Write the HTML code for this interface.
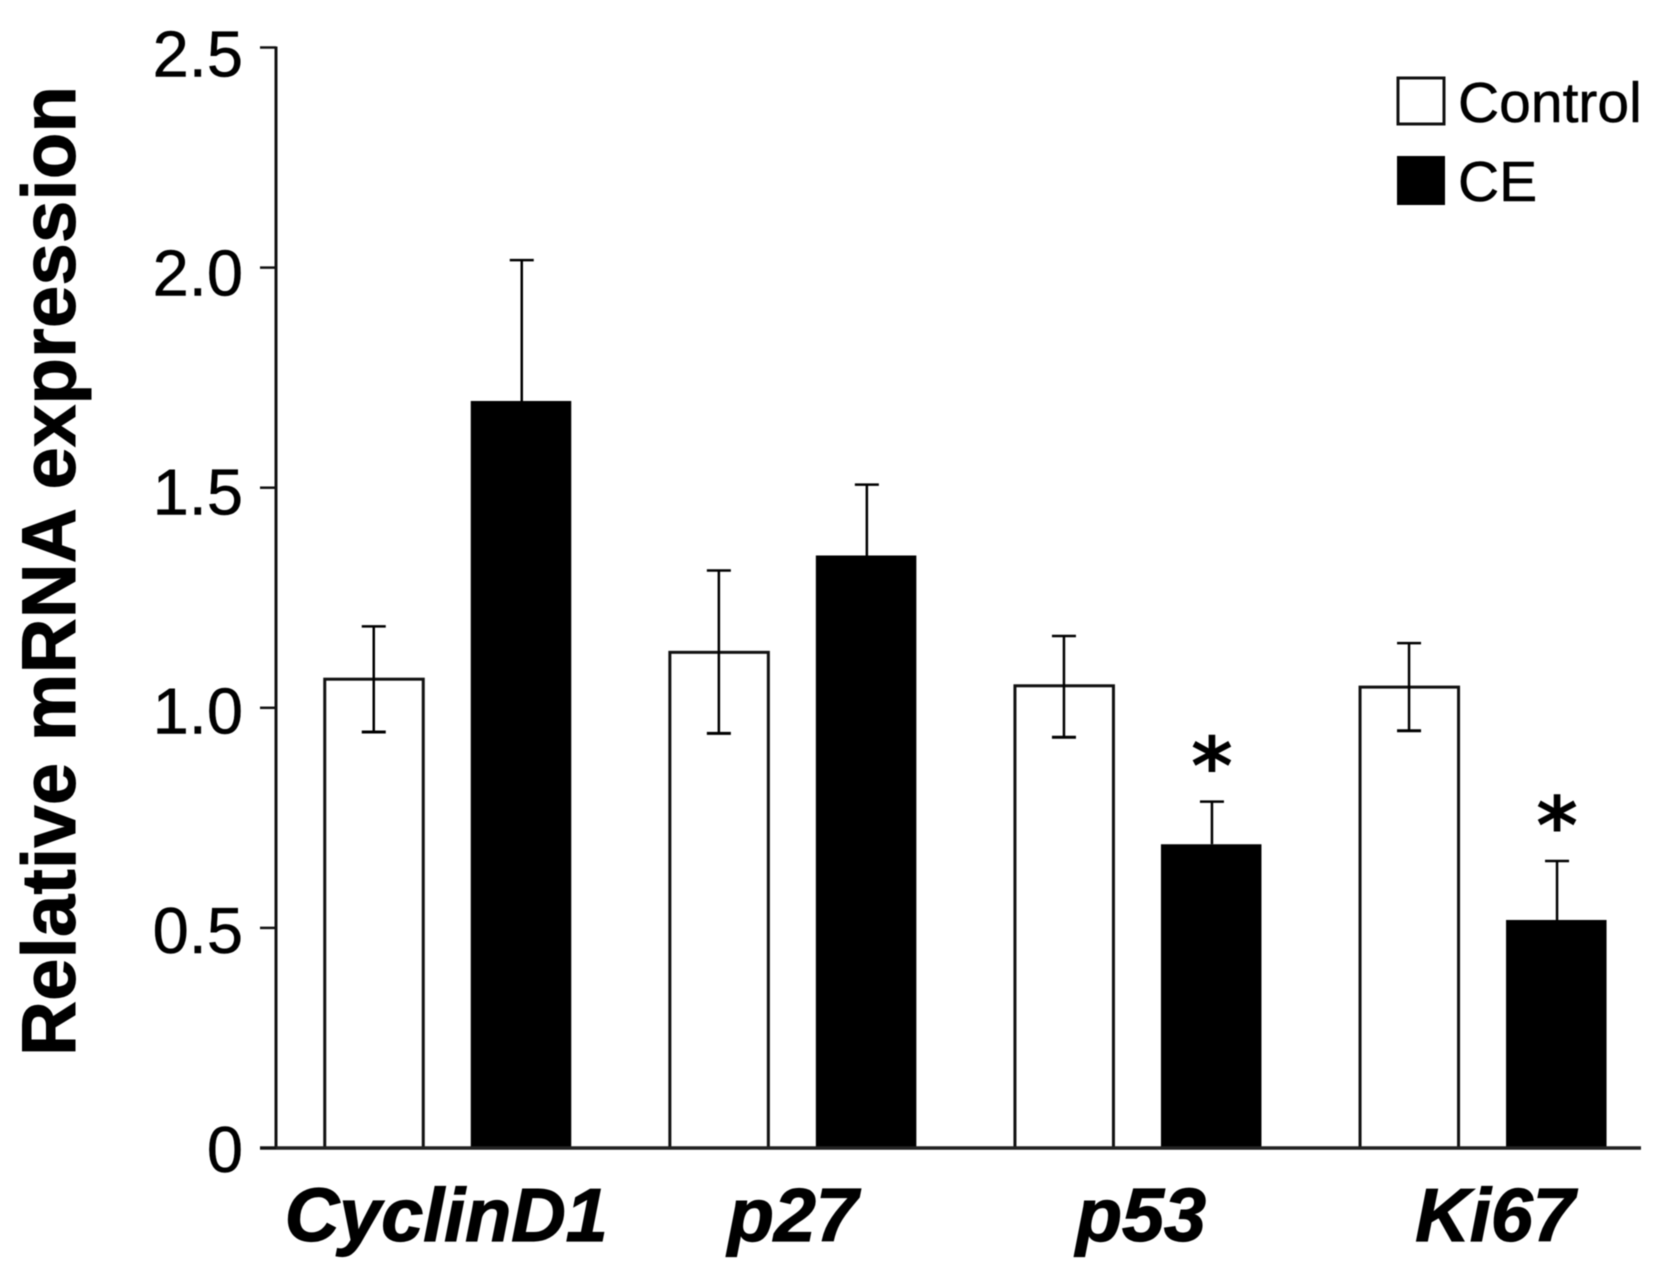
<!DOCTYPE html>
<html lang="en">
<head>
<meta charset="utf-8">
<title>Relative mRNA expression</title>
<style>
  html, body { margin: 0; padding: 0; background: #fff; }
  body { width: 1674px; height: 1279px; overflow: hidden; }
  svg { display: block; filter: blur(0.6px); }
  text { font-family: "Liberation Sans", sans-serif; fill: #000; stroke: #000; stroke-width: 0.5px; }
</style>
</head>
<body>
<svg id="chart" width="1674" height="1279" viewBox="0 0 1674 1279" xmlns="http://www.w3.org/2000/svg">
  <rect x="0" y="0" width="1674" height="1279" fill="#fff"/>
  <text transform="translate(75 1056) rotate(-90)" font-size="76" font-weight="700" textLength="970" style="stroke-width:1px">Relative mRNA expression</text>
  <g>
    <g>
      <rect x="1398" y="78" width="46" height="46" fill="#fff" stroke="#111" stroke-width="3"/>
      <text x="1458" y="122" font-size="57">Control</text>
    </g>
    <g>
      <rect x="1397" y="156" width="48" height="49" fill="#000"/>
      <text x="1458" y="201" font-size="57">CE</text>
    </g>
  </g>
  <g id="plot"></g>
</svg>
<script>
const categories = ["CyclinD1", "p27", "p53", "Ki67"];
const yTickValues = [0, 0.5, 1.0, 1.5, 2.0, 2.5];
const yTickLabels = ["0", "0.5", "1.0", "1.5", "2.0", "2.5"];
const controlValues = [1.065, 1.126, 1.05, 1.047];
const controlErrorUpper = [1.185, 1.312, 1.163, 1.147];
const controlErrorLower = [0.945, 0.942, 0.933, 0.948];
const ceValues = [1.697, 1.346, 0.69, 0.518];
const ceErrorUpper = [2.017, 1.507, 0.787, 0.652];
const significance = ["", "", "*", "*"];

const SVG_NS = "http://www.w3.org/2000/svg";
const plot = document.getElementById("plot");
const baselineY = 1148;
const pxPerUnit = 440.2;
const axisX = 276;
const axisRight = 1641;
const barWidth = 100;
const barOffset = 74;
const capHalf = 12;
const firstGroupCenter = 447.75;
const groupStep = 345.1;
const labelNudge = { "CyclinD1": -1.5, "p27": 0, "p53": 3, "Ki67": 12 };

function yScale(v) { return baselineY - v * pxPerUnit; }
function xGroup(i) { return firstGroupCenter + i * groupStep; }
function tickLabelY(v) { return 1172 - v * 438.3; }

function make(tag, attrs, parent) {
  const node = document.createElementNS(SVG_NS, tag);
  Object.keys(attrs).forEach(function (k) { node.setAttribute(k, attrs[k]); });
  parent.appendChild(node);
  return node;
}

function drawError(group, cx, yTop, yBottom, withLower) {
  const stem = make("line", { x1: cx, x2: cx, y1: yScale(yTop), y2: yScale(yBottom), stroke: "#000", "stroke-width": 2.5 }, group);
  
  
  const top = make("line", { x1: cx - capHalf, x2: cx + capHalf, y1: yScale(yTop), y2: yScale(yTop), stroke: "#000", "stroke-width": 2.5 }, group);
  
  
  if (withLower) {
    const low = make("line", { x1: cx - capHalf, x2: cx + capHalf, y1: yScale(yBottom), y2: yScale(yBottom), stroke: "#000", "stroke-width": 3 }, group);
    
    
  }
}

categories.forEach(function (name, i) {
  const center = xGroup(i);
  const group = make("g", {}, plot);
  
  

  const cx1 = center - barOffset;
  const controlBar = make("rect", {
    x: cx1 - barWidth / 2 + 1, y: yScale(controlValues[i]),
    width: barWidth - 1.5, height: baselineY - yScale(controlValues[i]),
    fill: "#fff", stroke: "#111", "stroke-width": 3
  }, group);
  
  
  drawError(group, cx1, controlErrorUpper[i], controlErrorLower[i], true);

  const cx2 = center + barOffset;
  const ceBar = make("rect", {
    x: cx2 - barWidth / 2 - 1, y: yScale(ceValues[i]),
    width: barWidth + 0.5, height: baselineY - yScale(ceValues[i]),
    fill: "#000"
  }, group);
  
  
  drawError(group, cx2, ceErrorUpper[i], ceValues[i], false);

  if (significance[i]) {
    const star = make("text", {
      x: cx2, y: yScale(ceErrorUpper[i]) - 7, "text-anchor": "middle",
      "font-size": 80, "font-weight": 700, style: 'font-family:"DejaVu Sans",sans-serif;stroke-width:0'
    }, group);
    star.textContent = significance[i];
    
    
  }

  const label = make("text", {
    x: center + labelNudge[name], y: 1241, "text-anchor": "middle",
    "font-size": 75.5, "font-weight": 700, "font-style": "italic", style: "stroke-width:1.2px"
  }, plot);
  label.textContent = name;
  
  
});

const yAxisLine = make("line", { x1: axisX, x2: axisX, y1: yScale(2.5) - 1, y2: baselineY, stroke: "#111", "stroke-width": 3 }, plot);



const xAxisLine = make("line", { x1: 260, x2: axisRight, y1: baselineY, y2: baselineY, stroke: "#222", "stroke-width": 3.5 }, plot);



yTickValues.forEach(function (v, i) {
  const tick = make("line", { x1: 260, x2: axisX, y1: yScale(v), y2: yScale(v), stroke: "#111", "stroke-width": 2.5 }, plot);
  
  
  const lab = make("text", { x: 243, y: tickLabelY(v), "text-anchor": "end", "font-size": 65 }, plot);
  lab.textContent = yTickLabels[i];
  
  
});
</script>
</body>
</html>
